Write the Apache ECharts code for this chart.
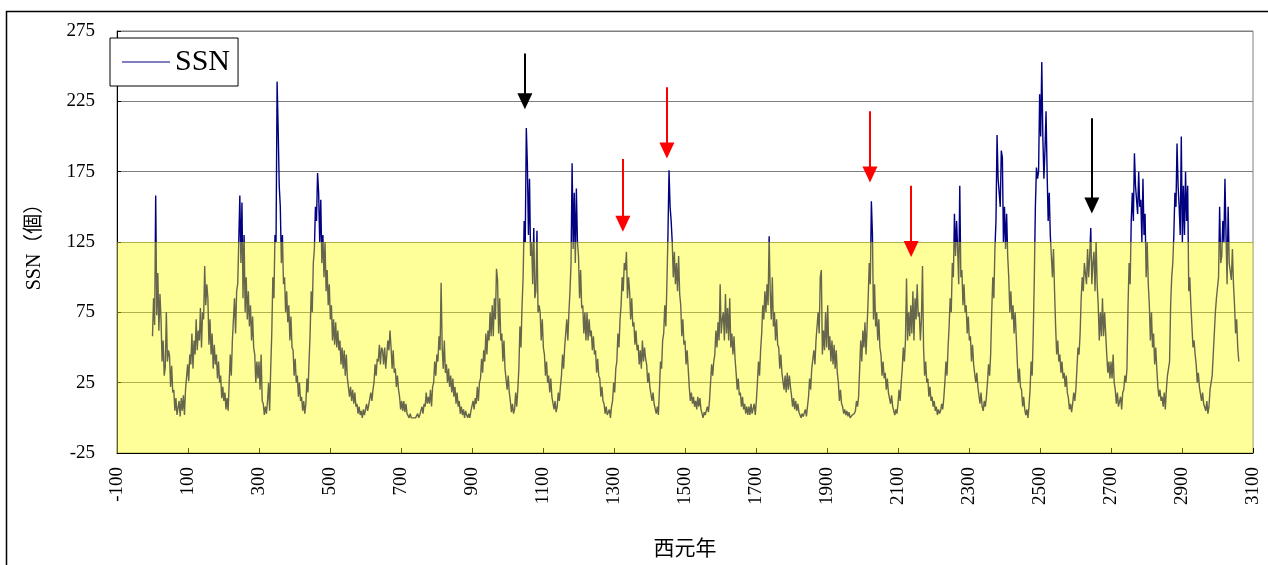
<!DOCTYPE html>
<html>
<head>
<meta charset="utf-8">
<title>SSN</title>
<script src="https://cdn.jsdelivr.net/npm/echarts/dist/echarts.min.js"></script>
<style>
  html, body { margin: 0; padding: 0; background: #fff; }
  #chart { width: 1268px; height: 565px; }
</style>
</head>
<body>
<div id="chart"></div>
<script>
// monthly sunspot number, one value every 3 months
// x axis is month index counted from Jan 1749
const stepMonths = 3

// 1749 - 1799, four values per year
const ssn1700s = [
  58, 85, 66, 158, 73, 103, 62, 88, 70, 40, 55, 30, 36, 75, 40, 48, 44, 22, 37, 18,
  20, 5, 14, 2, 3, 12, 1, 14, 5, 16, 2, 20, 20, 38, 26, 45, 38, 60, 35, 55,
  45, 70, 48, 62, 55, 78, 50, 75, 70, 108, 80, 95, 85, 52, 70, 45, 60, 35, 52, 38,
  45, 28, 40, 25, 30, 14, 22, 12, 18, 6, 14, 5, 25, 45, 30, 55, 55, 85, 60, 90,
  95, 125, 158, 110, 153, 85, 130, 75, 100, 70, 90, 65, 80, 55, 72, 50, 45, 25, 40, 28,
  40, 20, 45, 12, 10, 2, 8, 3, 12, 25, 5, 35, 60, 100, 85, 130, 125, 239, 205, 165,
  150, 110, 130, 95, 100, 75, 90, 68, 80, 55, 72, 50, 48, 30, 42, 25, 30, 15, 25, 12,
  15, 5, 12, 3, 10, 28, 18, 40, 60, 90, 75, 110, 120, 150, 140, 174, 160, 125, 155, 110,
  130, 100, 125, 90, 105, 80, 95, 70, 80, 55, 70, 52, 68, 50, 62, 48, 55, 38, 50, 35,
  48, 30, 45, 28, 28, 15, 22, 12, 20, 10, 18, 8, 10, 3, 8, 2, 5, 0, 6, 2,
  3, 10, 5, 9
]

// 1800 - 1899
const ssn1800s = [
  10, 18, 12, 20, 25, 38, 30, 42, 40, 52, 38, 50, 48, 38, 50, 35, 45, 55, 48, 62,
  50, 35, 48, 32, 35, 22, 30, 20, 15, 6, 12, 5, 12, 4, 10, 3, 4, 0, 3, 0,
  0, 0, 0, 0, 0, 3, 0, 2, 2, 8, 3, 10, 8, 18, 10, 15, 10, 20, 8, 22,
  25, 40, 30, 45, 40, 58, 48, 96, 50, 35, 55, 32, 38, 25, 35, 22, 30, 18, 28, 15,
  22, 10, 18, 8, 12, 3, 8, 2, 6, 0, 5, 2, 0, 3, 0, 5, 4, 12, 6, 14,
  10, 22, 12, 25, 28, 42, 32, 48, 40, 60, 45, 62, 55, 75, 58, 80, 58, 85, 70, 106,
  98, 60, 85, 55, 60, 40, 55, 35, 35, 20, 30, 18, 12, 4, 10, 3, 6, 18, 8, 20,
  35, 65, 50, 80, 100, 140, 125, 206, 180, 130, 170, 115, 125, 95, 135, 85, 90, 133, 75, 80,
  75, 55, 70, 50, 45, 30, 40, 25, 30, 18, 28, 15, 15, 6, 12, 4, 8, 18, 12, 22,
  30, 45, 35, 50, 50, 70, 55, 75, 90, 110, 181, 120, 160, 110, 163, 125, 115, 85, 105, 78,
  80, 60, 75, 55, 75, 55, 70, 58, 62, 48, 58, 45, 48, 32, 42, 30, 28, 15, 22, 12,
  10, 3, 8, 2, 2, 6, 0, 8, 12, 25, 18, 35, 40, 60, 50, 70, 80, 100, 90, 110,
  105, 118, 85, 100, 90, 70, 85, 65, 68, 52, 62, 48, 52, 38, 48, 35, 55, 40, 50, 42,
  38, 25, 32, 22, 22, 12, 18, 10, 10, 3, 8, 2, 20, 40, 35, 55, 60, 80, 65, 95,
  130, 176, 150, 140, 125, 100, 118, 95, 110, 90, 115, 88, 80, 58, 70, 52, 55, 38, 48, 35,
  22, 12, 18, 10, 15, 8, 12, 6, 15, 8, 14, 6, 5, 0, 4, 2, 2, 8, 4, 12,
  25, 38, 30, 40, 45, 62, 50, 68, 55, 95, 60, 70, 75, 55, 88, 60, 78, 55, 85, 50,
  60, 45, 58, 42, 32, 20, 28, 16, 18, 8, 15, 6, 10, 3, 8, 2, 8, 2, 10, 3,
  4, 10, 2, 12, 25, 40, 30, 48, 60, 80, 70, 90, 75, 95, 80, 129, 90, 70, 100, 65,
  75, 55, 70, 52, 50, 35, 45, 32, 32, 20, 30, 18, 32, 20, 30, 22, 16, 8, 14, 6
]

// 1900 - Jan 2004
const ssn1900s = [
  12, 5, 10, 4, 4, 0, 3, 1, 2, 6, 1, 8, 15, 28, 20, 35, 35, 48, 38, 55,
  55, 75, 60, 100, 105, 45, 62, 48, 75, 50, 80, 48, 58, 40, 55, 38, 52, 35, 48, 32,
  25, 12, 20, 10, 8, 3, 6, 2, 5, 1, 4, 0, 0, 2, 1, 3, 5, 12, 8, 15,
  35, 55, 40, 62, 50, 68, 45, 65, 85, 110, 95, 154, 130, 70, 95, 65, 75, 55, 70, 50,
  45, 30, 40, 28, 32, 20, 28, 18, 18, 10, 16, 8, 8, 2, 6, 3, 10, 20, 12, 25,
  35, 50, 40, 55, 99, 55, 75, 58, 80, 60, 90, 55, 85, 70, 95, 72, 75, 55, 70, 108,
  50, 30, 40, 25, 28, 15, 22, 12, 15, 8, 12, 5, 8, 2, 6, 3, 5, 10, 6, 14,
  25, 40, 30, 50, 65, 85, 75, 110, 100, 145, 115, 140, 120, 95, 165, 100, 105, 80, 95, 75,
  80, 60, 72, 55, 58, 40, 52, 38, 38, 25, 32, 22, 22, 10, 18, 8, 5, 12, 8, 15,
  25, 38, 30, 45, 75, 100, 85, 120, 140, 201, 170, 160, 150, 190, 185, 125, 150, 120, 145, 115,
  100, 75, 90, 70, 80, 60, 75, 58, 40, 25, 35, 22, 20, 8, 15, 6, 2, 6, 0, 8,
  20, 40, 30, 60, 100, 150, 178, 170, 175, 230, 200, 253, 200, 170, 190, 218, 175, 140, 160, 130,
  130, 100, 120, 90, 65, 45, 55, 40, 45, 32, 40, 28, 32, 22, 30, 18, 14, 6, 10, 4,
  10, 18, 12, 20, 35, 50, 45, 60, 85, 100, 90, 110, 110, 95, 120, 100, 115, 135, 95, 110,
  118, 90, 125, 95, 80, 55, 75, 58, 85, 58, 75, 60, 45, 32, 40, 28, 40, 28, 45, 25,
  20, 10, 18, 8, 8, 15, 6, 18, 20, 30, 25, 35, 80, 110, 95, 140, 160, 140, 188, 165,
  165, 145, 175, 150, 155, 125, 170, 130, 145, 100, 125, 95, 80, 55, 75, 50, 60, 38, 50, 35,
  22, 15, 20, 12, 15, 8, 18, 6, 20, 30, 35, 40, 80, 100, 110, 130, 160, 150, 195, 165,
  150, 130, 200, 125, 165, 130, 175, 140, 165, 90, 100, 80, 65, 50, 55, 45, 38, 25, 32, 22,
  22, 12, 18, 10, 10, 5, 12, 3, 8, 20, 25, 30, 45, 60, 75, 85, 85, 100, 150, 110,
  115, 140, 125, 170, 130, 95, 150, 110, 110, 98, 120, 95, 80, 60, 70, 50,
  40
]

// arrows: month index, start value, value at the middle of the head
const arrowX = [1049, 1325, 1449, 2021, 2137, 2646]
const arrowFrom = [259, 184, 235, 218, 165, 213]
const arrowHead = [225, 138, 190, 173, 120, 151]
const arrowColor = ['#000000', '#ff0000', '#ff0000', '#ff0000', '#ff0000', '#000000']

const yTicks = { min: -25, max: 275, interval: 50 }
const xTicks = { min: -100, max: 3100, interval: 200 }
const bandRange = [-25, 125]

const ssn = ssn1700s.concat(ssn1800s, ssn1900s)
const points = ssn.map((v, i) => [i * stepMonths, v])

const serif = "'Liberation Serif', 'Times New Roman', serif"
const cjk = "'Liberation Serif', 'Noto Sans CJK TC', sans-serif"

const chart = echarts.init(document.getElementById('chart'), null, { renderer: 'canvas' })

const option = {
  animation: false,
  backgroundColor: '#fff',
  graphic: [
    {
      type: 'rect',
      left: 4,
      top: 9,
      shape: { width: 1300, height: 620 },
      style: { fill: 'none', stroke: '#000', lineWidth: 1.5 },
      silent: true,
      z: -1
    }
  ],
  legend: {
    left: 110,
    top: 38,
    padding: [9, 8, 9, 12],
    backgroundColor: '#fff',
    borderColor: '#000',
    borderWidth: 1,
    itemWidth: 48,
    itemHeight: 1,
    data: [{ name: 'SSN', icon: 'rect' }],
    textStyle: { fontFamily: serif, fontSize: 30, color: '#000' }
  },
  grid: {
    left: 117,
    right: 15,
    top: 31,
    bottom: 109,
    show: true,
    borderColor: '#808080',
    borderWidth: 1
  },
  xAxis: {
    type: 'value',
    min: xTicks.min,
    max: xTicks.max,
    interval: xTicks.interval,
    name: '西元年',
    nameLocation: 'middle',
    nameGap: 86,
    nameTextStyle: { fontFamily: cjk, fontSize: 21, color: '#000' },
    axisLine: { onZero: false, lineStyle: { color: '#000', width: 1 } },
    axisTick: { inside: true, length: 5, lineStyle: { color: '#000' } },
    axisLabel: {
      rotate: 90,
      margin: 14,
      fontFamily: serif,
      fontSize: 19,
      color: '#000',
      formatter: (v) => String(v)
    },
    splitLine: { show: false }
  },
  yAxis: {
    type: 'value',
    min: yTicks.min,
    max: yTicks.max,
    interval: yTicks.interval,
    name: 'SSN（個）',
    nameLocation: 'middle',
    nameGap: 72,
    nameTextStyle: { fontFamily: cjk, fontSize: 20, color: '#000' },
    axisLine: { show: true, onZero: false, lineStyle: { color: '#000', width: 1 } },
    axisTick: { show: true, inside: true, length: 4, lineStyle: { color: '#000' } },
    axisLabel: { margin: 22, fontFamily: serif, fontSize: 19, color: '#000' },
    splitLine: { show: true, lineStyle: { color: '#7f7f7f', width: 1 } }
  },
  series: [
    {
      name: 'SSN',
      type: 'line',
      data: points,
      showSymbol: false,
      symbol: 'none',
      z: 2,
      lineStyle: { color: '#000080', width: 1.4 },
      itemStyle: { color: '#000080' },
      markArea: {
        silent: true,
        z: 10,
        itemStyle: { color: 'rgba(255, 255, 0, 0.4)' },
        data: [[{ yAxis: bandRange[0] }, { yAxis: bandRange[1] }]]
      },
      markLine: {
        silent: true,
        z: 20,
        animation: false,
        symbol: ['none', 'triangle'],
        symbolSize: [15, 16],
        label: { show: false },
        data: arrowX.map((x, i) => [
          {
            coord: [x, arrowFrom[i]],
            lineStyle: { color: arrowColor[i], width: 2, type: 'solid' },
            itemStyle: { color: arrowColor[i] }
          },
          { coord: [x, arrowHead[i]] }
        ])
      }
    }
  ]
}

chart.setOption(option)
</script>
</body>
</html>
